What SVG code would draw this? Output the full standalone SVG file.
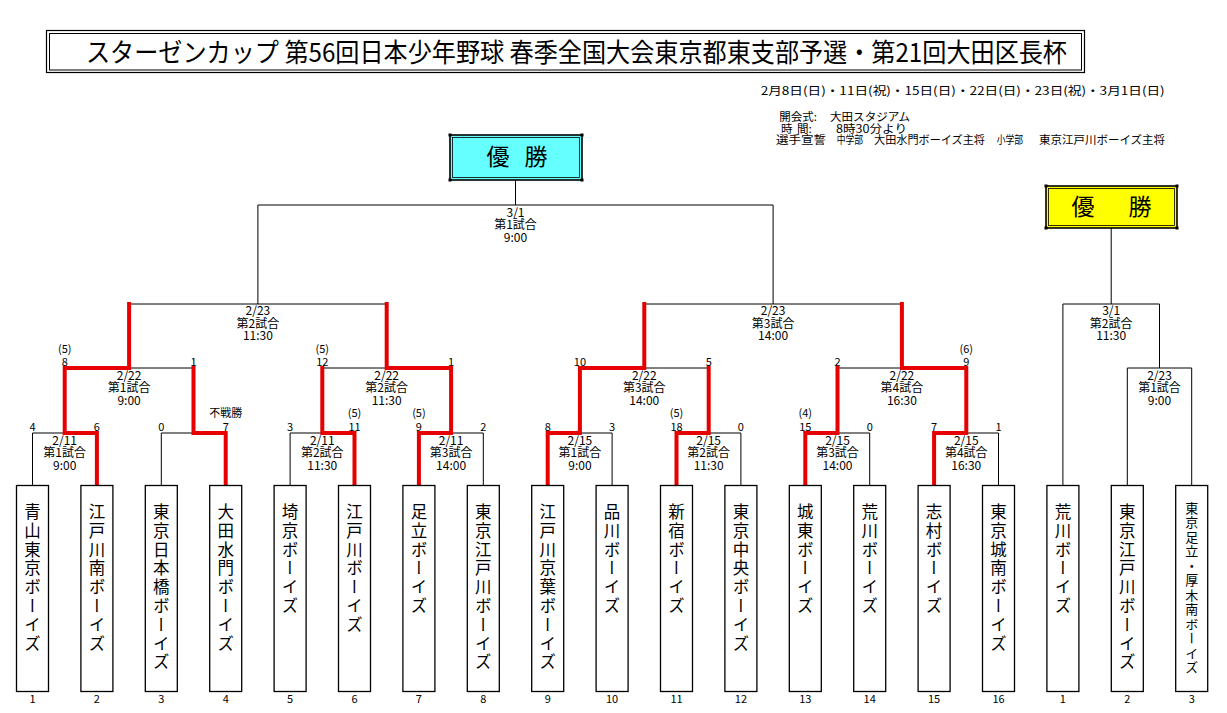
<svg xmlns="http://www.w3.org/2000/svg" width="1227" height="713" viewBox="0 0 1227 713">
<style>
text{font-family:"Noto Sans CJK JP","Liberation Sans",sans-serif;fill:#000}
.lbl{font-size:12px;text-anchor:middle}
.sc{font-size:11px;text-anchor:middle}
.num{font-size:11px;text-anchor:middle}
.info{font-size:11.5px}
.team{font-size:16.5px;letter-spacing:2.3px;writing-mode:vertical-rl}
.team.small{font-size:13px;letter-spacing:1.5px}
.box{fill:#fff;stroke:#000;stroke-width:1.3}
.blk{fill:none;stroke:#000;stroke-width:1}
.red{fill:none;stroke:#e60000;stroke-width:4;stroke-linecap:square;stroke-linejoin:miter}
.champ{font-size:23px;text-anchor:middle}
</style>
<rect width="1227" height="713" fill="#fff"/>
<g id="title">
<rect x="46.5" y="30.5" width="1038" height="42" fill="#fff" stroke="#000" stroke-width="1.2"/>
<rect x="49.5" y="33.5" width="1032" height="36.5" fill="none" stroke="#000" stroke-width="1"/>
<text x="86" y="62" font-size="26" textLength="981" lengthAdjust="spacingAndGlyphs">スターゼンカップ 第56回日本少年野球 春季全国大会東京都東支部予選・第21回大田区長杯</text>
</g>
<g id="info" class="info">
<text class="info" x="760.7" y="95" textLength="404" lengthAdjust="spacingAndGlyphs">2月8日(日)・11日(祝)・15日(日)・22日(日)・23日(祝)・3月1日(日)</text>
<text class="info" x="779.3" y="121">開会式:</text>
<text class="info" x="830" y="121" textLength="80" lengthAdjust="spacingAndGlyphs">大田スタジアム</text>
<text class="info" x="781" y="132.5">時</text>
<text class="info" x="797" y="132.5">間:</text>
<text class="info" x="836" y="132.5" textLength="71" lengthAdjust="spacingAndGlyphs">8時30分より</text>
<text class="info" x="776" y="143.5" textLength="50" lengthAdjust="spacingAndGlyphs">選手宣誓</text>
<text class="info" x="836.7" y="143.5" textLength="26.3" lengthAdjust="spacingAndGlyphs">中学部</text>
<text class="info" x="874" y="143.5" textLength="111" lengthAdjust="spacingAndGlyphs">大田水門ボーイズ主将</text>
<text class="info" x="996.7" y="143.5" textLength="26.3" lengthAdjust="spacingAndGlyphs">小学部</text>
<text class="info" x="1039" y="143.5" textLength="126" lengthAdjust="spacingAndGlyphs">東京江戸川ボーイズ主将</text>
</g>
<g id="connectors">
<path class="blk" d="M32.5 485.5V433M96.9 485.5V433M161.3 485.5V433M225.7 485.5V433M290.1 485.5V433M354.5 485.5V433M418.9 485.5V433M483.3 485.5V433M547.7 485.5V433M612.1 485.5V433M676.5 485.5V433M740.9 485.5V433M805.3 485.5V433M869.7 485.5V433M934.1 485.5V433M998.5 485.5V433
M32.5 433H96.9M161.3 433H225.7M290.1 433H354.5M418.9 433H483.3M547.7 433H612.1M676.5 433H740.9M805.3 433H869.7M934.1 433H998.5
M64.7 433V368M193.5 433V368M322.3 433V368M451.1 433V368M579.9 433V368M708.7 433V368M837.5 433V368M966.3 433V368
M64.7 368H193.5M322.3 368H451.1M579.9 368H708.7M837.5 368H966.3
M129.1 368V304M386.7 368V304M644.3 368V304M901.9 368V304
M129.1 304H386.7M644.3 304H901.9
M257.9 304V205M773.1 304V205M257.9 205H773.1M515.5 205V180
M1127.3 485.5V368H1191.7V485.5M1159.5 368V304M1062.9 485.5V304H1159.5M1111.2 304V228"/>
<path class="red" d="M96.9 485.5V433H64.7V368H129.1V304"/>
<path class="red" d="M225.7 485.5V433H193.5V368"/>
<path class="red" d="M354.5 485.5V433H322.3V368"/>
<path class="red" d="M418.9 485.5V433H451.1V368H386.7V304"/>
<path class="red" d="M547.7 485.5V433H579.9V368H644.3V304"/>
<path class="red" d="M676.5 485.5V433H708.7V368"/>
<path class="red" d="M805.3 485.5V433H837.5V368"/>
<path class="red" d="M934.1 485.5V433H966.3V368H901.9V304"/>
</g>
<g id="champion-main">
<rect x="450" y="135" width="132" height="45" fill="#66ffff" stroke="#000" stroke-width="1.6"/>
<rect x="452.5" y="137.5" width="127" height="40" fill="none" stroke="#000" stroke-width="0.8"/>
<rect x="448.5" y="133.5" width="3" height="3"/><rect x="580.5" y="133.5" width="3" height="3"/><rect x="448.5" y="178.5" width="3" height="3"/><rect x="580.5" y="178.5" width="3" height="3"/>
<text class="champ" x="498 516 536" y="165">優　勝</text>
</g>
<g id="champion-sub">
<rect x="1046" y="186" width="131" height="42" fill="#ffff00" stroke="#000" stroke-width="1.6"/>
<rect x="1048.5" y="188.5" width="126" height="37" fill="none" stroke="#000" stroke-width="0.8"/>
<rect x="1044.5" y="184.5" width="3" height="3"/><rect x="1175.5" y="184.5" width="3" height="3"/><rect x="1044.5" y="226.5" width="3" height="3"/><rect x="1175.5" y="226.5" width="3" height="3"/>
<text class="champ" x="1083 1111 1140" y="215" font-size="22">優　勝</text>
</g>
<g id="match-labels">
<g id="m-final"><text class="lbl" x="515.5" y="216.5">3/1</text><text class="lbl" x="515.5" y="229">第1試合</text><text class="lbl" x="515.5" y="241.5">9:00</text></g>
<g id="m-s1"><text class="lbl" x="257.9" y="315">2/23</text><text class="lbl" x="257.9" y="327.5">第2試合</text><text class="lbl" x="257.9" y="340">11:30</text></g>
<g id="m-s2"><text class="lbl" x="773.1" y="315">2/23</text><text class="lbl" x="773.1" y="327.5">第3試合</text><text class="lbl" x="773.1" y="340">14:00</text></g>
<g id="m-r2"><text class="lbl" x="1111.2" y="315">3/1</text><text class="lbl" x="1111.2" y="327.5">第2試合</text><text class="lbl" x="1111.2" y="340">11:30</text></g>
<g id="m-q1"><text class="lbl" x="129.1" y="379.5">2/22</text><text class="lbl" x="129.1" y="392">第1試合</text><text class="lbl" x="129.1" y="404.5">9:00</text></g>
<g id="m-q2"><text class="lbl" x="386.7" y="379.5">2/22</text><text class="lbl" x="386.7" y="392">第2試合</text><text class="lbl" x="386.7" y="404.5">11:30</text></g>
<g id="m-q3"><text class="lbl" x="644.3" y="379.5">2/22</text><text class="lbl" x="644.3" y="392">第3試合</text><text class="lbl" x="644.3" y="404.5">14:00</text></g>
<g id="m-q4"><text class="lbl" x="901.9" y="379.5">2/22</text><text class="lbl" x="901.9" y="392">第4試合</text><text class="lbl" x="901.9" y="404.5">16:30</text></g>
<g id="m-r1"><text class="lbl" x="1159.5" y="379.5">2/23</text><text class="lbl" x="1159.5" y="392">第1試合</text><text class="lbl" x="1159.5" y="404.5">9:00</text></g>
<g id="m-m1"><text class="lbl" x="64.7" y="444.5">2/11</text><text class="lbl" x="64.7" y="457">第1試合</text><text class="lbl" x="64.7" y="469.5">9:00</text></g>
<g id="m-m3"><text class="lbl" x="322.3" y="444.5">2/11</text><text class="lbl" x="322.3" y="457">第2試合</text><text class="lbl" x="322.3" y="469.5">11:30</text></g>
<g id="m-m4"><text class="lbl" x="451.1" y="444.5">2/11</text><text class="lbl" x="451.1" y="457">第3試合</text><text class="lbl" x="451.1" y="469.5">14:00</text></g>
<g id="m-m5"><text class="lbl" x="579.9" y="444.5">2/15</text><text class="lbl" x="579.9" y="457">第1試合</text><text class="lbl" x="579.9" y="469.5">9:00</text></g>
<g id="m-m6"><text class="lbl" x="708.7" y="444.5">2/15</text><text class="lbl" x="708.7" y="457">第2試合</text><text class="lbl" x="708.7" y="469.5">11:30</text></g>
<g id="m-m7"><text class="lbl" x="837.5" y="444.5">2/15</text><text class="lbl" x="837.5" y="457">第3試合</text><text class="lbl" x="837.5" y="469.5">14:00</text></g>
<g id="m-m8"><text class="lbl" x="966.3" y="444.5">2/15</text><text class="lbl" x="966.3" y="457">第4試合</text><text class="lbl" x="966.3" y="469.5">16:30</text></g>
</g>
<g id="scores">
<text class="sc" x="32.5" y="430.5">4</text><text class="sc" x="96.9" y="430.5">6</text>
<text class="sc" x="161.3" y="430.5">0</text><text class="sc" x="225.7" y="430.5">7</text>
<text class="sc" x="290.1" y="430.5">3</text><text class="sc" x="354.5" y="430.5">11</text>
<text class="sc" x="418.9" y="430.5">9</text><text class="sc" x="483.3" y="430.5">2</text>
<text class="sc" x="547.7" y="430.5">8</text><text class="sc" x="612.1" y="430.5">3</text>
<text class="sc" x="676.5" y="430.5">18</text><text class="sc" x="740.9" y="430.5">0</text>
<text class="sc" x="805.3" y="430.5">15</text><text class="sc" x="869.7" y="430.5">0</text>
<text class="sc" x="934.1" y="430.5">7</text><text class="sc" x="998.5" y="430.5">1</text>
<text class="sc" x="225.7" y="417">不戦勝</text>
<text class="sc" x="354.5" y="417">(5)</text><text class="sc" x="418.9" y="417">(5)</text>
<text class="sc" x="676.5" y="417">(5)</text><text class="sc" x="805.3" y="417">(4)</text>
<text class="sc" x="64.7" y="365.5">8</text><text class="sc" x="193.5" y="365.5">1</text>
<text class="sc" x="322.3" y="365.5">12</text><text class="sc" x="451.1" y="365.5">1</text>
<text class="sc" x="579.9" y="365.5">10</text><text class="sc" x="708.7" y="365.5">5</text>
<text class="sc" x="837.5" y="365.5">2</text><text class="sc" x="966.3" y="365.5">9</text>
<text class="sc" x="64.7" y="353">(5)</text><text class="sc" x="322.3" y="353">(5)</text><text class="sc" x="966.3" y="353">(6)</text>
</g>
<g id="team-1"><rect class="box" x="16.5" y="485.5" width="32" height="206"/><text class="team" x="32.5" y="503.5">青山東京ボーイズ</text><text class="num" x="32.5" y="703">1</text></g>
<g id="team-2"><rect class="box" x="80.9" y="485.5" width="32" height="206"/><text class="team" x="96.9" y="503.5">江戸川南ボーイズ</text><text class="num" x="96.9" y="703">2</text></g>
<g id="team-3"><rect class="box" x="145.3" y="485.5" width="32" height="206"/><text class="team" x="161.3" y="503.5">東京日本橋ボーイズ</text><text class="num" x="161.3" y="703">3</text></g>
<g id="team-4"><rect class="box" x="209.7" y="485.5" width="32" height="206"/><text class="team" x="225.7" y="503.5">大田水門ボーイズ</text><text class="num" x="225.7" y="703">4</text></g>
<g id="team-5"><rect class="box" x="274.1" y="485.5" width="32" height="206"/><text class="team" x="290.1" y="503.5">埼京ボーイズ</text><text class="num" x="290.1" y="703">5</text></g>
<g id="team-6"><rect class="box" x="338.5" y="485.5" width="32" height="206"/><text class="team" x="354.5" y="503.5">江戸川ボーイズ</text><text class="num" x="354.5" y="703">6</text></g>
<g id="team-7"><rect class="box" x="402.9" y="485.5" width="32" height="206"/><text class="team" x="418.9" y="503.5">足立ボーイズ</text><text class="num" x="418.9" y="703">7</text></g>
<g id="team-8"><rect class="box" x="467.3" y="485.5" width="32" height="206"/><text class="team" x="483.3" y="503.5">東京江戸川ボーイズ</text><text class="num" x="483.3" y="703">8</text></g>
<g id="team-9"><rect class="box" x="531.7" y="485.5" width="32" height="206"/><text class="team" x="547.7" y="503.5">江戸川京葉ボーイズ</text><text class="num" x="547.7" y="703">9</text></g>
<g id="team-10"><rect class="box" x="596.1" y="485.5" width="32" height="206"/><text class="team" x="612.1" y="503.5">品川ボーイズ</text><text class="num" x="612.1" y="703">10</text></g>
<g id="team-11"><rect class="box" x="660.5" y="485.5" width="32" height="206"/><text class="team" x="676.5" y="503.5">新宿ボーイズ</text><text class="num" x="676.5" y="703">11</text></g>
<g id="team-12"><rect class="box" x="724.9" y="485.5" width="32" height="206"/><text class="team" x="740.9" y="503.5">東京中央ボーイズ</text><text class="num" x="740.9" y="703">12</text></g>
<g id="team-13"><rect class="box" x="789.3" y="485.5" width="32" height="206"/><text class="team" x="805.3" y="503.5">城東ボーイズ</text><text class="num" x="805.3" y="703">13</text></g>
<g id="team-14"><rect class="box" x="853.7" y="485.5" width="32" height="206"/><text class="team" x="869.7" y="503.5">荒川ボーイズ</text><text class="num" x="869.7" y="703">14</text></g>
<g id="team-15"><rect class="box" x="918.1" y="485.5" width="32" height="206"/><text class="team" x="934.1" y="503.5">志村ボーイズ</text><text class="num" x="934.1" y="703">15</text></g>
<g id="team-16"><rect class="box" x="982.5" y="485.5" width="32" height="206"/><text class="team" x="998.5" y="503.5">東京城南ボーイズ</text><text class="num" x="998.5" y="703">16</text></g>
<g id="team-b1"><rect class="box" x="1046.9" y="485.5" width="32" height="206"/><text class="team" x="1062.9" y="503.5">荒川ボーイズ</text><text class="num" x="1062.9" y="703">1</text></g>
<g id="team-b2"><rect class="box" x="1111.3" y="485.5" width="32" height="206"/><text class="team" x="1127.3" y="503.5">東京江戸川ボーイズ</text><text class="num" x="1127.3" y="703">2</text></g>
<g id="team-b3"><rect class="box" x="1175.7" y="485.5" width="32" height="206"/><text class="team small" x="1191.7" y="501.5">東京足立・厚木南ボーイズ</text><text class="num" x="1191.7" y="703">3</text></g>
</svg>
